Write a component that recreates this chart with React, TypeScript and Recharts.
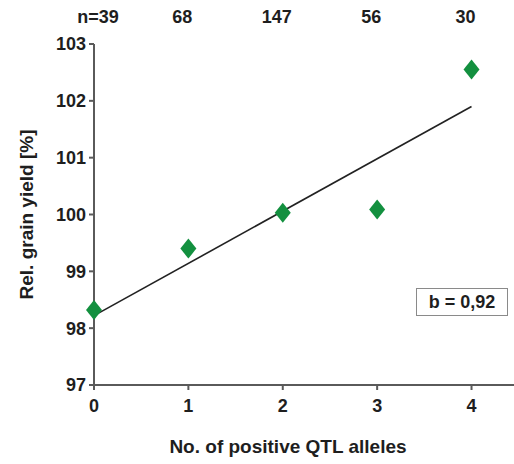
import { ComposedChart, Scatter, XAxis, YAxis } from 'recharts';

const alleles = [0, 1, 2, 3, 4];
const grainYield = [98.32, 99.4, 100.03, 100.09, 102.55];
const sampleSizes = ['n=39', '68', '147', '56', '30'];
const yTicks = [97, 98, 99, 100, 101, 102, 103];
const fitX = [0, 4];
const fitY = [98.22, 101.9];
const slopeText = 'b = 0,92';

const points = alleles.map((x, i) => ({ x, y: grainYield[i] }));
const fitLine = fitX.map((x, i) => ({ x, y: fitY[i] }));

const FONT = '"Liberation Sans", Arial, sans-serif';
const AXIS = '#5a5a5a';
const GREEN = '#13903f';
const TEXT = '#1e1e1e';

const Diamond = (props: any) => {
  const { cx, cy } = props;
  if (cx == null || cy == null) return null;
  return (
    <polygon
      points={`${cx},${cy - 10} ${cx + 8},${cy} ${cx},${cy + 10} ${cx - 8},${cy}`}
      fill={GREEN}
    />
  );
};

const TopTick = (props: any) => {
  const { x, payload, index } = props;
  const shift = index === 0 ? 4 : -6;
  return (
    <text x={x + shift} y={23} textAnchor="middle" fontFamily={FONT} fontWeight="bold" fontSize={18} fill={TEXT}>
      {sampleSizes[payload.value]}
    </text>
  );
};

export default function App() {
  return (
    <div style={{ position: 'absolute', left: 0, top: 0, width: 514, height: 464, background: '#fff' }}>
      <ComposedChart width={514} height={464} margin={{ top: 14, right: 0, bottom: 0, left: 0 }}>
        <XAxis
          xAxisId="top"
          orientation="top"
          type="number"
          dataKey="x"
          domain={[0, 4.45]}
          ticks={alleles}
          height={30}
          axisLine={false}
          tickLine={false}
          tick={<TopTick />}
        />
        <XAxis
          xAxisId="bottom"
          type="number"
          dataKey="x"
          domain={[0, 4.45]}
          ticks={alleles}
          height={79}
          stroke={AXIS}
          strokeWidth={2}
          tickSize={5}
          tickMargin={9}
          tick={{ fill: TEXT, fontFamily: FONT, fontWeight: 'bold', fontSize: 18 }}
          label={{
            value: 'No. of positive QTL alleles',
            position: 'insideBottom',
            offset: 11,
            dx: -16,
            style: { fill: TEXT, fontFamily: FONT, fontWeight: 'bold', fontSize: 19 },
          }}
        />
        <YAxis
          type="number"
          dataKey="y"
          domain={[97, 103]}
          ticks={yTicks}
          width={94}
          stroke={AXIS}
          strokeWidth={2}
          tickSize={5}
          tickMargin={3}
          tick={{ fill: TEXT, fontFamily: FONT, fontWeight: 'bold', fontSize: 18 }}
          label={{
            value: 'Rel. grain yield [%]',
            angle: -90,
            position: 'insideLeft',
            offset: 26,
            style: { textAnchor: 'middle', fill: TEXT, fontFamily: FONT, fontWeight: 'bold', fontSize: 19 },
          }}
        />
        <Scatter
          xAxisId="top"
          data={points}
          shape={() => null}
          isAnimationActive={false}
        />
        <Scatter
          xAxisId="bottom"
          data={fitLine}
          line={{ stroke: '#222', strokeWidth: 1.6 }}
          shape={() => null}
          isAnimationActive={false}
        />
        <Scatter xAxisId="bottom" data={points} shape={<Diamond />} isAnimationActive={false} />
      </ComposedChart>
      <div
        style={{
          position: 'absolute',
          left: 416,
          top: 288,
          width: 90,
          height: 26,
          border: '1px solid #8a8a8a',
          fontFamily: FONT,
          fontWeight: 'bold',
          fontSize: 18,
          color: TEXT,
          lineHeight: '26px',
          textAlign: 'center',
        }}
      >
        {slopeText}
      </div>
    </div>
  );
}
